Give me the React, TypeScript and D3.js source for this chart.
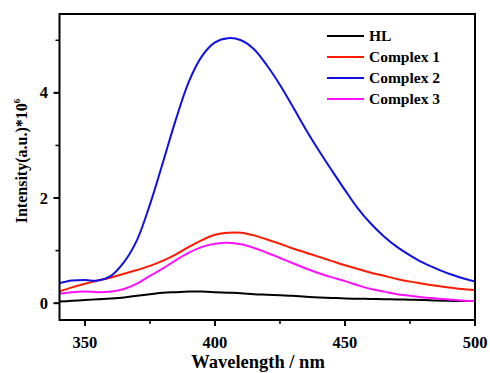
import React from "react";
import * as d3 from "d3";

const wavelengths = [340,345,350,355,360,365,370,375,380,385,390,395,400,405,410,415,420,425,430,435,440,445,450,455,460,465,470,475,480,485,490,495,500];
const hl = [0.03,0.045,0.06,0.075,0.09,0.11,0.14,0.17,0.2,0.21,0.22,0.22,0.21,0.2,0.19,0.17,0.16,0.15,0.14,0.12,0.11,0.1,0.09,0.085,0.08,0.075,0.07,0.065,0.06,0.05,0.045,0.04,0.04];
const complex1 = [0.22,0.3,0.37,0.43,0.49,0.56,0.63,0.71,0.81,0.93,1.07,1.2,1.3,1.34,1.34,1.29,1.21,1.13,1.04,0.96,0.88,0.8,0.72,0.65,0.58,0.52,0.46,0.41,0.37,0.33,0.3,0.27,0.25];
const complex2 = [0.38,0.43,0.44,0.43,0.52,0.78,1.2,1.88,2.68,3.5,4.22,4.7,4.96,5.04,5.0,4.83,4.52,4.15,3.73,3.3,2.9,2.52,2.15,1.8,1.51,1.27,1.07,0.91,0.77,0.66,0.56,0.48,0.41];
const complex3 = [0.18,0.21,0.22,0.21,0.22,0.27,0.37,0.52,0.66,0.82,0.96,1.07,1.13,1.15,1.12,1.05,0.96,0.86,0.76,0.66,0.57,0.49,0.42,0.34,0.27,0.22,0.17,0.14,0.11,0.09,0.07,0.05,0.04];

const seriesNames = ["HL", "Complex 1", "Complex 2", "Complex 3"];
const seriesData = [hl, complex1, complex2, complex3];
const seriesColors = ["#000000", "#ff1a00", "#1010e0", "#ff10ff"];

const xTicks = [350, 400, 450, 500];
const xMinor = [375, 425, 475];
const yTicks = [0, 2, 4];
const yMinor = [1, 3, 5];

export default function App() {
  const W = 490, H = 373;
  const left = 59.5, right = 475, top = 14, bottom = 320;
  const x = d3.scaleLinear().domain([340.2, 500]).range([left, right]);
  const y = d3.scaleLinear().domain([-0.32, 5.5]).range([bottom, top]);
  const font = "'Liberation Serif', 'Times New Roman', serif";

  const line = d3.line<[number, number]>()
    .x(d => x(d[0]))
    .y(d => y(d[1]))
    .curve(d3.curveCatmullRom.alpha(0.5));

  return (
    <svg width={W} height={H} style={{ position: "absolute", left: 0, top: 0 }}>
      <rect width={W} height={H} fill="#fff" />
      <defs>
        <clipPath id="plot">
          <rect x={left} y={top} width={right - left} height={bottom - top} />
        </clipPath>
      </defs>
      <g clipPath="url(#plot)">
        {seriesData.map((s, i) => (
          <path key={i} d={line(wavelengths.map((w, j) => [w, s[j]]) as [number, number][]) || ""}
            fill="none" stroke={seriesColors[i]} strokeWidth={2} />
        ))}
      </g>
      <rect x={left} y={top} width={right - left} height={bottom - top} fill="none" stroke="#000" strokeWidth={2} />
      {xTicks.map(t => (
        <g key={t}>
          <line x1={x(t)} x2={x(t)} y1={bottom} y2={bottom + 6} stroke="#000" strokeWidth={2} />
          <text x={x(t)} y={348} textAnchor="middle" fontFamily={font} fontWeight="bold" fontSize={16.5}>{t}</text>
        </g>
      ))}
      {xMinor.map(t => (
        <line key={t} x1={x(t)} x2={x(t)} y1={bottom} y2={bottom + 4} stroke="#000" strokeWidth={1.5} />
      ))}
      {yTicks.map(t => (
        <g key={t}>
          <line x1={left - 6} x2={left} y1={y(t)} y2={y(t)} stroke="#000" strokeWidth={2} />
          <text x={48} y={y(t) + 5.5} textAnchor="end" fontFamily={font} fontWeight="bold" fontSize={16.5}>{t}</text>
        </g>
      ))}
      {yMinor.map(t => (
        <line key={t} x1={left - 4} x2={left} y1={y(t)} y2={y(t)} stroke="#000" strokeWidth={1.5} />
      ))}
      <text transform="translate(27,161) rotate(-90)" textAnchor="middle" fontFamily={font} fontWeight="bold" fontSize={16}>
        Intensity(a.u.)*10<tspan dy={-7} fontSize={9}>6</tspan>
      </text>
      <text x={258} y={368} textAnchor="middle" fontFamily={font} fontWeight="bold" fontSize={18.5}>Wavelength / nm</text>
      {seriesNames.map((n, i) => (
        <g key={n}>
          <line x1={327} x2={364} y1={36 + i * 21} y2={36 + i * 21} stroke={seriesColors[i]} strokeWidth={2.2} />
          <text x={369} y={36 + i * 21 + 5} fontFamily={font} fontWeight="bold" fontSize={15.5}>{n}</text>
        </g>
      ))}
    </svg>
  );
}
